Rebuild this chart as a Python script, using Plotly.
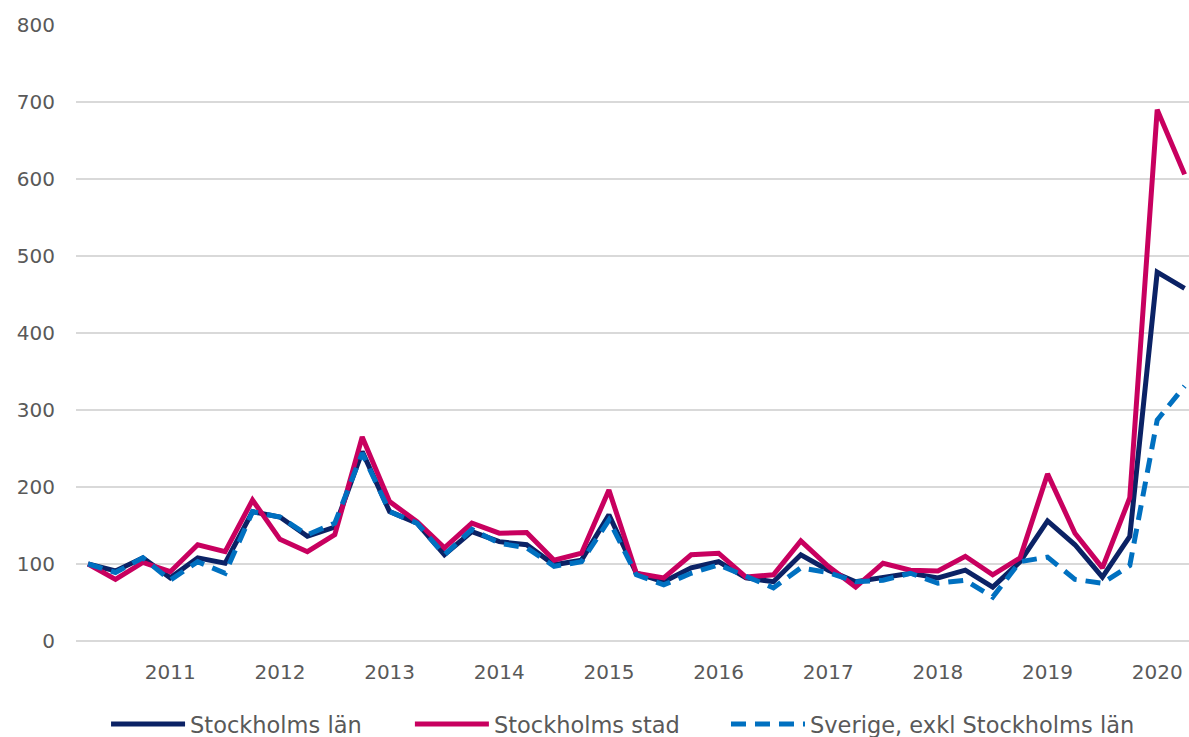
import plotly.graph_objects as go

quarters = list(range(41))  # 2010Q2 .. 2020Q2
year_ticks = [3, 7, 11, 15, 19, 23, 27, 31, 35, 39]
year_labels = ["2011", "2012", "2013", "2014", "2015", "2016", "2017", "2018", "2019", "2020"]

stockholms_lan = [100, 91, 108, 82, 108, 101, 168, 161, 136, 148,
                  246, 168, 153, 112, 142, 129, 125, 99, 105, 164,
                  88, 77, 95, 103, 82, 77, 112, 92, 77, 82,
                  88, 82, 92, 70, 103, 156, 125, 83, 136, 479, 458]
stockholms_stad = [100, 80, 102, 90, 125, 116, 183, 132, 116, 138,
                   265, 181, 155, 121, 153, 140, 141, 105, 114, 196,
                   88, 82, 112, 114, 83, 86, 130, 97, 70, 101,
                   92, 91, 110, 86, 108, 217, 140, 95, 186, 690, 606]
sverige_exkl = [100, 89, 108, 79, 103, 88, 168, 161, 138, 153,
                244, 168, 153, 112, 145, 127, 121, 97, 103, 157,
                86, 73, 88, 99, 84, 69, 95, 89, 77, 79,
                88, 75, 79, 57, 103, 109, 80, 75, 98, 287, 331]

series_names = ["Stockholms län", "Stockholms stad", "Sverige, exkl Stockholms län"]

fig = go.Figure()
fig.add_trace(go.Scatter(x=quarters, y=stockholms_lan, mode="lines", name=series_names[0],
                         line=dict(color="#0B2265", width=5), legend="legend"))
fig.add_trace(go.Scatter(x=quarters, y=stockholms_stad, mode="lines", name=series_names[1],
                         line=dict(color="#C8005F", width=5), legend="legend2"))
fig.add_trace(go.Scatter(x=quarters, y=sverige_exkl, mode="lines", name=series_names[2],
                         line=dict(color="#0070C0", width=5, dash="15px,9px"), legend="legend3"))

font_col = "#595959"
leg_common = dict(orientation="h", y=-0.1006, yanchor="top", xanchor="left",
                  font=dict(size=22.5, color=font_col), itemwidth=74,
                  bgcolor="rgba(0,0,0,0)")

fig.update_layout(
    width=1189, height=737,
    margin=dict(l=76, r=0, t=25, b=96, autoexpand=False),
    paper_bgcolor="white", plot_bgcolor="white",
    font=dict(family="DejaVu Sans", size=20, color=font_col),
    showlegend=True,
    legend=dict(x=0.027, **leg_common),
    legend2=dict(x=0.300, **leg_common),
    legend3=dict(x=0.584, **leg_common),
    xaxis=dict(range=[-0.44, 40.16], tickvals=year_ticks, ticktext=year_labels,
               showgrid=False, zeroline=False, showline=False, ticks="",
               ticklabelstandoff=17, tickfont=dict(size=20, color=font_col)),
    yaxis=dict(range=[0, 800], dtick=100, showgrid=True, gridcolor="#D9D9D9", gridwidth=2,
               zeroline=True, zerolinecolor="#D9D9D9", zerolinewidth=2, showline=False,
               ticks="", ticklabelstandoff=20, tickfont=dict(size=20, color=font_col)),
)

fig.write_html(
    "out.html",
    config={"displayModeBar": False},
    post_script="document.body.style.margin='0';document.body.style.overflow='hidden';",
)
